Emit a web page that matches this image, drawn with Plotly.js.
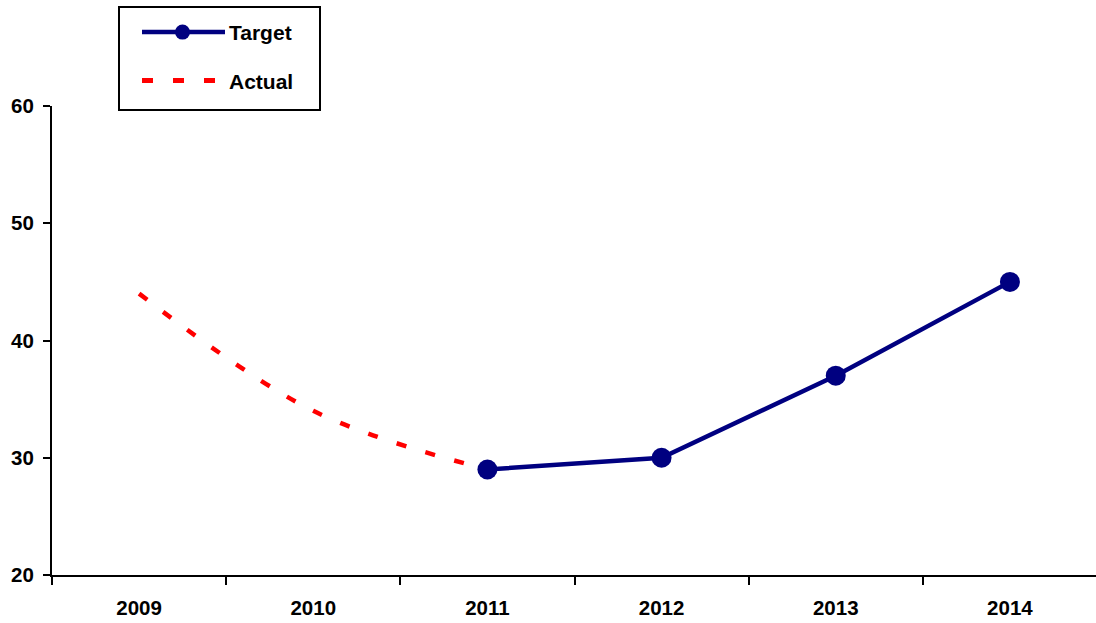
<!DOCTYPE html>
<html>
<head>
<meta charset="utf-8">
<script src="https://cdn.plot.ly/plotly-3.0.1.min.js"></script>
<style>
  html, body { margin: 0; padding: 0; background: #fff; overflow: hidden; }
  #chart { width: 1096px; height: 623px; }
</style>
</head>
<body>
<div id="chart"></div>
<script>
// Yearly values: the actual trend up to 2011, the target path from 2011 on
const years = ['2009', '2010', '2011', '2012', '2013', '2014'];
const actualValues = [44, 34, 29, null, null, null];
const targetValues = [null, null, 29, 30, 37, 45];
const targetName = 'Target';
const actualName = 'Actual';
const yTicks = [20, 30, 40, 50, 60];

const NAVY = '#000080';
const RED = '#ff0000';
const FAMILY = 'Liberation Sans, Arial, sans-serif';
const TICK_FONT = { family: FAMILY, size: 20.5, color: '#000', weight: 'bold' };
const LEGEND_FONT = { family: FAMILY, size: 21, color: '#000', weight: 'bold' };

// Plot area geometry in pixels, used to place the hand-drawn legend box
const L = 52, T = 106, W = 1045, H = 469.5;
const fullW = 1097, fullH = 623;
const px = x => (x - L) / W;
const py = y => (T + H - y) / H;

const traces = [
  {
    x: years, y: actualValues, name: actualName, type: 'scatter', mode: 'lines',
    line: { color: RED, width: 4.5, dash: '10px,20px', shape: 'spline', smoothing: 1 },
    connectgaps: false, hoverinfo: 'x+y'
  },
  {
    x: years, y: targetValues, name: targetName, type: 'scatter', mode: 'lines+markers',
    line: { color: NAVY, width: 4.5 },
    marker: { color: NAVY, size: 20, line: { width: 0 } },
    connectgaps: false, hoverinfo: 'x+y'
  }
];

const shapes = [
  // legend frame
  { type: 'rect', xref: 'paper', yref: 'paper', x0: px(119), x1: px(320), y0: py(110), y1: py(7),
    line: { color: '#000', width: 2 }, fillcolor: '#fff', layer: 'above' },
  // target sample: line with a dot
  { type: 'line', xref: 'paper', yref: 'paper', x0: px(142), x1: px(225), y0: py(32), y1: py(32),
    line: { color: NAVY, width: 4.5 }, layer: 'above' },
  { type: 'circle', xref: 'paper', yref: 'paper', x0: px(175), x1: px(190), y0: py(39.5), y1: py(24.5),
    line: { color: NAVY, width: 0 }, fillcolor: NAVY, layer: 'above' },
  // actual sample: dashed line
  { type: 'line', xref: 'paper', yref: 'paper', x0: px(142), x1: px(226), y0: py(80.5), y1: py(80.5),
    line: { color: RED, width: 5, dash: '11px,20px' }, layer: 'above' }
];

const annotations = [
  { xref: 'paper', yref: 'paper', x: px(227), y: py(32), text: targetName, showarrow: false,
    xanchor: 'left', yanchor: 'middle', font: LEGEND_FONT },
  { xref: 'paper', yref: 'paper', x: px(227), y: py(81), text: actualName, showarrow: false,
    xanchor: 'left', yanchor: 'middle', font: LEGEND_FONT }
];

const layout = {
  width: fullW, height: fullH,
  margin: { l: L, r: fullW - L - W, t: T, b: fullH - T - H, pad: 0 },
  paper_bgcolor: '#fff', plot_bgcolor: '#fff',
  showlegend: false,
  xaxis: {
    type: 'category', categoryorder: 'array', categoryarray: years,
    range: [-0.5, years.length - 0.5],
    tickson: 'boundaries', ticks: 'outside', ticklen: 8, tickwidth: 2, tickcolor: '#000',
    showline: true, linecolor: '#000', linewidth: 2, showgrid: false, zeroline: false,
    tickfont: TICK_FONT, ticklabelstandoff: 13, fixedrange: true
  },
  yaxis: {
    range: [20, 60], tickvals: yTicks, ticktext: yTicks.map(String),
    ticks: 'outside', ticklen: 7, tickwidth: 2, tickcolor: '#000',
    showline: true, linecolor: '#000', linewidth: 2, showgrid: false, zeroline: false,
    tickfont: TICK_FONT, ticklabelstandoff: 5, fixedrange: true
  },
  shapes: shapes,
  annotations: annotations
};

Plotly.newPlot('chart', traces, layout, { displayModeBar: false, staticPlot: true });
</script>
</body>
</html>
